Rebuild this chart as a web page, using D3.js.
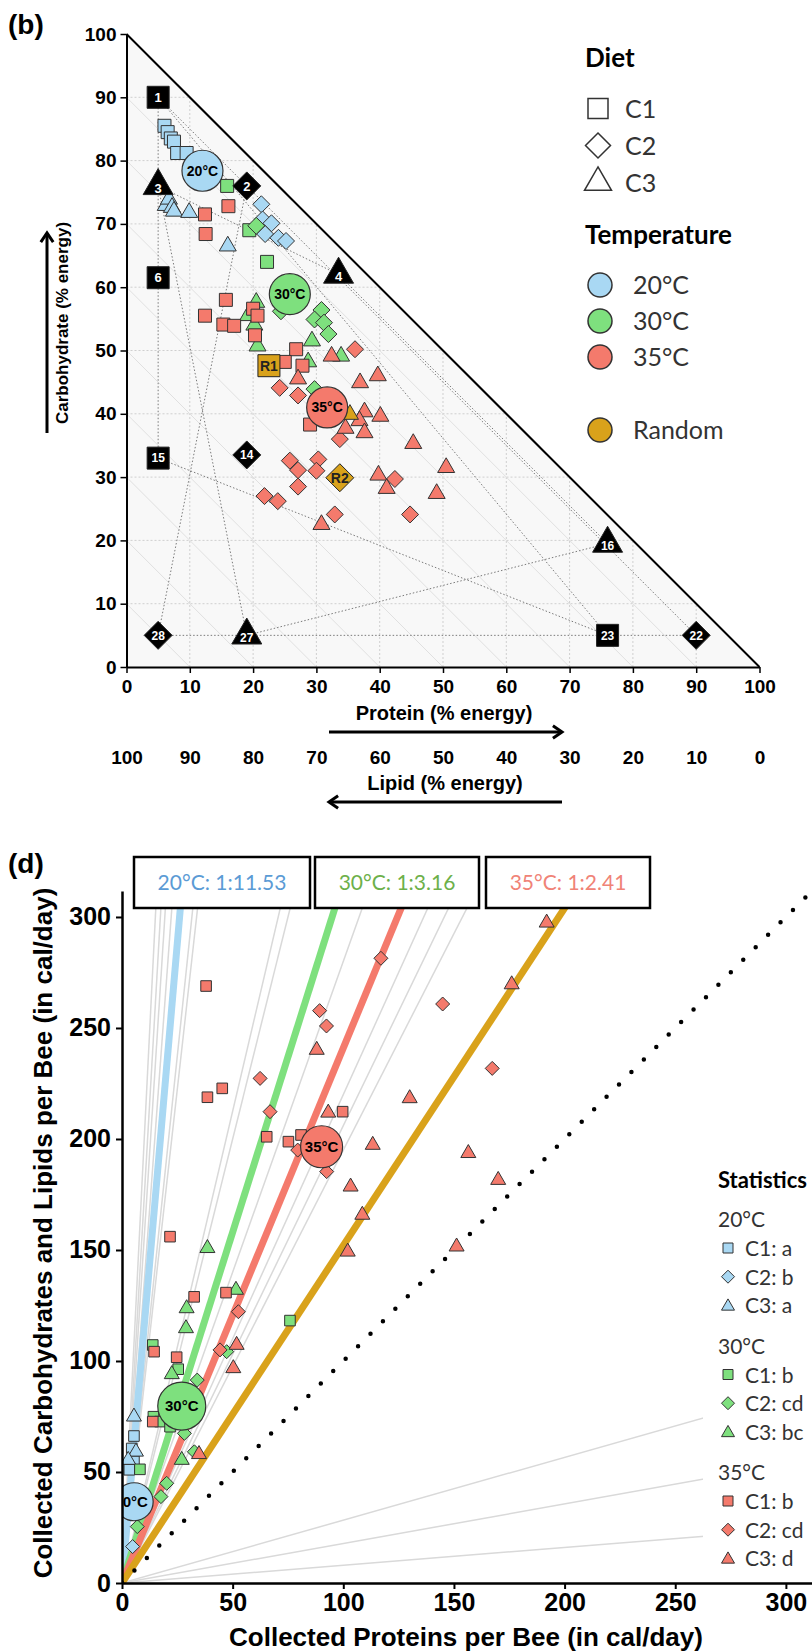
<!DOCTYPE html>
<html>
<head>
<meta charset="utf-8">
<script src="https://cdn.jsdelivr.net/npm/d3@7"></script>
<style>
  body { margin: 0; background: #fff; }
  .axis text { font-family: "Liberation Sans", Arial, sans-serif; font-weight: bold; fill: #000; }
  .axis path, .axis line { stroke: #000; }
</style>
</head>
<body>
<div id="chart"></div>
<script>
// ---------- panel (b): nutrient space, values are [P, C] in % energy ----------
const dietFoods = [
  ["1", "square", 5, 90], ["6", "square", 5, 61.5], ["15", "square", 5, 33], ["23", "square", 76, 5],
  ["2", "diamond", 19, 76], ["14", "diamond", 19, 33.5], ["28", "diamond", 5, 5], ["22", "diamond", 90, 5],
  ["3", "triangle", 5, 76], ["4", "triangle", 33.5, 62], ["16", "triangle", 76, 19.5], ["27", "triangle", 19, 5]
];
const randomFoods = [["R1", "square", 22.5, 47.6], ["R2", "diamond", 33.7, 29.9]];
const dietRails = [["1", "6"], ["6", "15"], ["15", "23"], ["1", "23"], ["1", "2"],
                   ["2", "28"], ["28", "22"], ["2", "22"],
                   ["3", "4"], ["4", "16"], ["16", "27"], ["27", "3"]];
const ternTicks = [0, 10, 20, 30, 40, 50, 60, 70, 80, 90, 100];

const tern20 = [
  ["square", 6, 85.5], ["square", 6.5, 84.5], ["square", 7, 83.5], ["square", 7.5, 83], ["square", 8, 81.2], ["square", 9.5, 81.2],
  ["diamond", 21.3, 73.1], ["diamond", 21.5, 70.7], ["diamond", 22.9, 70.1], ["diamond", 21.9, 68.4], ["diamond", 24.0, 67.8], ["diamond", 25.2, 67.3],
  ["triangle", 6.2, 72.9], ["triangle", 6.7, 73.9], ["triangle", 7.2, 72.6], ["triangle", 7.5, 72.0], ["triangle", 9.9, 71.8], ["triangle", 16.0, 66.5]
];
const tern30 = [
  ["square", 15.9, 76.0], ["square", 19.4, 69.0], ["square", 22.2, 64.0],
  ["diamond", 20.5, 69.7], ["diamond", 24.4, 56.2], ["diamond", 30.8, 56.4], ["diamond", 29.7, 54.9], ["diamond", 31.2, 54.4], ["diamond", 31.9, 52.6], ["diamond", 29.7, 43.9],
  ["triangle", 20.5, 57.6], ["triangle", 19.2, 55.5], ["triangle", 20.2, 54.0], ["triangle", 20.7, 50.7], ["triangle", 29.3, 51.5], ["triangle", 33.9, 49.1], ["triangle", 28.7, 48.2]
];
const tern35 = [
  ["square", 12.4, 71.5], ["square", 16.1, 72.8], ["square", 12.5, 68.4], ["square", 15.7, 58.0], ["square", 12.4, 55.5], ["square", 15.3, 54.1],
  ["square", 17.0, 53.9], ["square", 20.0, 56.6], ["square", 20.7, 55.5], ["square", 20.3, 52.4], ["square", 26.8, 50.2], ["square", 25.0, 48.2],
  ["square", 27.8, 47.6], ["square", 29.0, 38.3],
  ["diamond", 36.1, 50.2], ["diamond", 24.2, 44.1], ["diamond", 27.1, 42.9], ["diamond", 33.7, 36.0], ["diamond", 25.8, 32.6], ["diamond", 27.1, 31.1],
  ["diamond", 30.3, 32.8], ["diamond", 30.0, 31.0], ["diamond", 27.1, 28.5], ["diamond", 42.4, 29.7], ["diamond", 21.8, 27.0], ["diamond", 23.9, 26.2],
  ["diamond", 32.9, 24.1], ["diamond", 44.8, 24.1],
  ["triangle", 32.4, 49.1], ["triangle", 27.1, 45.5], ["triangle", 36.9, 44.9], ["triangle", 39.7, 46.0], ["triangle", 37.6, 40.3], ["triangle", 40.1, 39.6],
  ["triangle", 36.8, 38.9], ["triangle", 34.6, 37.7], ["triangle", 37.6, 37.0], ["triangle", 45.3, 35.3], ["triangle", 50.5, 31.5], ["triangle", 39.8, 30.3],
  ["triangle", 41.1, 28.2], ["triangle", 49.0, 27.4], ["triangle", 30.8, 22.5]
];
const ternRandom = [["triangle", 35.3, 39.9]];
const ternCentroids = [["20", "20°C", 12.0, 78.4], ["30", "30°C", 25.8, 58.9], ["35", "35°C", 31.7, 41.0]];

// ---------- panel (d): collected [protein, carbohydrate + lipid] in cal/day ----------
const intake20 = [
  ["square", 5.4, 66.2], ["square", 4.4, 60.6], ["square", 5.4, 54.8], ["square", 3.3, 51.0],
  ["diamond", 4.8, 16.4],
  ["triangle", 5.4, 74.9], ["triangle", 6.3, 59.1], ["triangle", 2.8, 55.4]
];
const intake30 = [
  ["square", 8.1, 51.2], ["square", 13.9, 107.2], ["square", 25.4, 96.3], ["square", 14.2, 74.9], ["square", 17.2, 72.7], ["square", 21.7, 70.4], ["square", 75.9, 118.2],
  ["diamond", 34.0, 91.4], ["diamond", 28.2, 67.4], ["diamond", 32.7, 59.1], ["diamond", 20.2, 44.9], ["diamond", 17.6, 38.9], ["diamond", 47.3, 104.2], ["diamond", 6.9, 25.4],
  ["triangle", 38.6, 150.8], ["triangle", 51.5, 132.0], ["triangle", 29.2, 123.7], ["triangle", 28.9, 114.7], ["triangle", 22.5, 94.0], ["triangle", 27.0, 55.4]
];
const intake35 = [
  ["square", 38.0, 268.9], ["square", 38.6, 218.8], ["square", 45.3, 222.8], ["square", 65.4, 201.0], ["square", 75.2, 198.8], ["square", 80.9, 201.8],
  ["square", 99.7, 212.3], ["square", 21.7, 156.0], ["square", 32.6, 128.9], ["square", 47.0, 130.8], ["square", 14.5, 104.2], ["square", 24.7, 101.7], ["square", 13.9, 72.7],
  ["diamond", 117.0, 281.4], ["diamond", 89.3, 257.8], ["diamond", 92.4, 250.9], ["diamond", 144.9, 260.8], ["diamond", 62.4, 227.3], ["diamond", 66.9, 212.3],
  ["diamond", 167.3, 231.8], ["diamond", 92.5, 185.3], ["diamond", 79.4, 195.0], ["diamond", 52.6, 122.2], ["diamond", 44.3, 105.0],
  ["triangle", 191.9, 297.4], ["triangle", 176.1, 269.6], ["triangle", 88.0, 240.1], ["triangle", 93.2, 211.8], ["triangle", 130.0, 218.3], ["triangle", 113.3, 197.3],
  ["triangle", 103.3, 178.5], ["triangle", 108.6, 165.8], ["triangle", 102.0, 149.2], ["triangle", 156.5, 193.6], ["triangle", 170.0, 181.5], ["triangle", 151.2, 151.5],
  ["triangle", 51.8, 107.2], ["triangle", 50.3, 96.7], ["triangle", 34.8, 58.0]
];
const intakeCentroids = [["20", "20°C", 5.5, 36.6], ["30", "30°C", 27.0, 79.7], ["35", "35°C", 90.2, 196.5]];
const ratioSlopes = [["20", 11.53], ["30", 3.16], ["35", 2.41], ["R", 1.52]];
const ratioLabels = [["20", "20°C: 1:11.53"], ["30", "30°C: 1:3.16"], ["35", "35°C: 1:2.41"]];
const colonySlopes = [19.9, 17.3, 15.5, 13.5, 9.5, 8.9, 4.25, 4.0, 2.8, 2.2, 2.06, 1.95, 0.283, 0.178, 0.08];
const intakeTicks = [0, 50, 100, 150, 200, 250, 300];

// legends
const dietLegend = [["square", "C1"], ["diamond", "C2"], ["triangle", "C3"]];
const tempLegend = [["20", "20°C"], ["30", "30°C"], ["35", "35°C"]];
const statsLegend = [
  ["20", "20°C", [["square", "C1: a"], ["diamond", "C2: b"], ["triangle", "C3: a"]]],
  ["30", "30°C", [["square", "C1: b"], ["diamond", "C2: cd"], ["triangle", "C3: bc"]]],
  ["35", "35°C", [["square", "C1: b"], ["diamond", "C2: cd"], ["triangle", "C3: d"]]]
];

const fillColor = { "20": "#A9D8F3", "30": "#7EE07E", "35": "#F47A6C", "R": "#D9A21B" };
const textColor = { "20": "#5B9BD5", "30": "#6DB04A", "35": "#F08377" };
const lato = "Lato, 'Open Sans', sans-serif";
const arial = "'Liberation Sans', Arial, sans-serif";

// r = half width of the mark
function shapePath(shape, r) {
  if (shape === "square") return `M${-r},${-r}H${r}V${r}H${-r}Z`;
  if (shape === "diamond") return `M0,${-r}L${r},0L0,${r}L${-r},0Z`;
  const h = r * Math.sqrt(3);
  return `M0,${-h * 2 / 3}L${r},${h / 3}L${-r},${h / 3}Z`;
}

const svg = d3.select("#chart").append("svg")
  .attr("width", 812)
  .attr("height", 1652);

// =================== panel (b) ===================
const tx = d3.scaleLinear().domain([0, 100]).range([126.5, 759.5]);
const ty = d3.scaleLinear().domain([0, 100]).range([667, 34]);
const lx = d3.scaleLinear().domain([100, 0]).range([126.5, 759.5]);
const gB = svg.append("g");

// triangle background
gB.append("path")
  .attr("d", "M" + tx(0) + "," + ty(0) + "L" + tx(0) + "," + ty(100) + "L" + tx(100) + "," + ty(0) + "Z")
  .attr("fill", "#f8f8f8");

// grid inside the triangle
ternTicks.filter(v => v > 0 && v < 100).forEach(v => {
  gB.append("line")
    .attr("x1", tx(0)).attr("x2", tx(100 - v)).attr("y1", ty(v)).attr("y2", ty(v))
    .attr("stroke", "#cfcfcf").attr("stroke-dasharray", "2,2");
  gB.append("line")
    .attr("x1", tx(v)).attr("x2", tx(v)).attr("y1", ty(0)).attr("y2", ty(100 - v))
    .attr("stroke", "#cfcfcf").attr("stroke-dasharray", "2,2");
  // lipid iso-lines
  gB.append("line")
    .attr("x1", tx(0)).attr("y1", ty(v)).attr("x2", tx(v)).attr("y2", ty(0))
    .attr("stroke", "#e0e0e0").attr("stroke-width", 1);
});

// diet rails
const foodById = new Map(dietFoods.map(d => [d[0], d]));
dietRails.forEach(([a, b]) => {
  const A = foodById.get(a), B = foodById.get(b);
  gB.append("line")
    .attr("x1", tx(A[2])).attr("y1", ty(A[3]))
    .attr("x2", tx(B[2])).attr("y2", ty(B[3]))
    .attr("stroke", "#7a7a7a").attr("stroke-width", 1).attr("stroke-dasharray", "1.5,2");
});

const topSize = { square: 6.5, diamond: 8.5, triangle: 8.5 };
function drawTern(data, key) {
  gB.append("g").selectAll("path")
    .data(data)
    .join("path")
    .attr("transform", d => `translate(${tx(d[1])},${ty(d[2])})`)
    .attr("d", d => shapePath(d[0], topSize[d[0]]))
    .attr("fill", fillColor[key])
    .attr("stroke", "#333")
    .attr("stroke-width", 1);
}
drawTern(tern20, "20");
drawTern(tern30, "30");
drawTern(tern35, "35");
drawTern(ternRandom, "R");

// temperature centroids
ternCentroids.forEach(d => {
  gB.append("circle").attr("cx", tx(d[2])).attr("cy", ty(d[3])).attr("r", 20.5)
    .attr("fill", fillColor[d[0]]).attr("stroke", "#333").attr("stroke-width", 1.2);
  gB.append("text").attr("x", tx(d[2])).attr("y", ty(d[3])).attr("dy", "0.35em")
    .attr("text-anchor", "middle").attr("font-family", arial).attr("font-weight", "bold")
    .attr("font-size", 14).text(d[1]);
});

// diet foods (black) and random foods (gold)
const foodSize = { square: 11, diamond: 14, triangle: 15 };
function drawFoods(data, fill, txtFill) {
  const g = gB.append("g").selectAll("g").data(data).join("g")
    .attr("transform", d => `translate(${tx(d[2])},${ty(d[3])})`);
  g.append("path").attr("d", d => shapePath(d[1], foodSize[d[1]]))
    .attr("fill", fill).attr("stroke", "#222").attr("stroke-width", 1);
  g.append("text")
    .attr("y", d => d[1] === "triangle" ? 2 : 0)
    .attr("dy", "0.36em")
    .attr("text-anchor", "middle")
    .attr("font-family", arial).attr("font-weight", "bold")
    .attr("font-size", d => d[0].length > 1 ? (fill === "#000" ? 12 : 14) : 13)
    .attr("fill", txtFill)
    .text(d => d[0]);
}
drawFoods(dietFoods, "#000", "#fff");
drawFoods(randomFoods, fillColor.R, "#222");

// axes
const axL = gB.append("g").attr("class", "axis")
  .attr("transform", `translate(${tx(0)},0)`)
  .call(d3.axisLeft(ty).tickValues(ternTicks).tickSize(6).tickSizeOuter(0).tickPadding(4));
axL.selectAll("text").attr("font-size", 19);
const axB = gB.append("g").attr("class", "axis")
  .attr("transform", `translate(0,${ty(0)})`)
  .call(d3.axisBottom(tx).tickValues(ternTicks).tickSize(6).tickSizeOuter(0).tickPadding(7));
axB.selectAll("text").attr("font-size", 19);
gB.selectAll(".axis .domain").attr("stroke-width", 2);
gB.selectAll(".axis .tick line").attr("stroke-width", 1.5);

const axLip = gB.append("g").attr("class", "axis")
  .attr("transform", "translate(0,750)")
  .call(d3.axisBottom(lx).tickValues(ternTicks).tickSize(0).tickPadding(0));
axLip.select(".domain").remove();
axLip.selectAll("text").attr("font-size", 19);

// hypotenuse
gB.append("line")
  .attr("x1", tx(0)).attr("y1", ty(100)).attr("x2", tx(100)).attr("y2", ty(0))
  .attr("stroke", "#000").attr("stroke-width", 2);

// axis titles and arrows
gB.append("text").attr("x", 444).attr("y", 720).attr("text-anchor", "middle")
  .attr("font-family", arial).attr("font-weight", "bold").attr("font-size", 20)
  .text("Protein (% energy)");
gB.append("text").attr("x", 445).attr("y", 790).attr("text-anchor", "middle")
  .attr("font-family", arial).attr("font-weight", "bold").attr("font-size", 20)
  .text("Lipid (% energy)");
gB.append("text").attr("transform", "translate(68,323) rotate(-90)").attr("text-anchor", "middle")
  .attr("font-family", arial).attr("font-weight", "bold").attr("font-size", 17)
  .text("Carbohydrate (% energy)");

function arrow(x1, y1, x2, y2) {
  const a = Math.atan2(y2 - y1, x2 - x1), L = 11;
  gB.append("line").attr("x1", x1).attr("y1", y1).attr("x2", x2).attr("y2", y2)
    .attr("stroke", "#000").attr("stroke-width", 3);
  gB.append("path")
    .attr("d", `M${x2 - L * Math.cos(a - 0.6)},${y2 - L * Math.sin(a - 0.6)}L${x2},${y2}L${x2 - L * Math.cos(a + 0.6)},${y2 - L * Math.sin(a + 0.6)}`)
    .attr("fill", "none").attr("stroke", "#000").attr("stroke-width", 3);
}
arrow(329, 732, 562, 732);
arrow(562, 802, 329, 802);
arrow(47, 433, 47, 233);

gB.append("text").attr("x", 8).attr("y", 34)
  .attr("font-family", arial).attr("font-weight", "bold").attr("font-size", 28).text("(b)");

// legend (b)
const legB = gB.append("g");
legB.append("text").attr("x", 585).attr("y", 67).attr("font-family", lato)
  .attr("font-weight", "bold").attr("font-size", 26).text("Diet");
dietLegend.forEach((d, i) => {
  const cy = 108.5 + i * 37;
  legB.append("path").attr("transform", `translate(598,${cy})`)
    .attr("d", shapePath(d[0], d[0] === "square" ? 10 : (d[0] === "diamond" ? 12.5 : 13.5)))
    .attr("fill", "#fff").attr("stroke", "#333").attr("stroke-width", 1.5);
  legB.append("text").attr("x", 625).attr("y", cy + 9).attr("font-family", lato)
    .attr("font-size", 25).attr("fill", "#333").text(d[1]);
});
legB.append("text").attr("x", 585).attr("y", 244).attr("font-family", lato)
  .attr("font-weight", "bold").attr("font-size", 26).text("Temperature");
tempLegend.concat([["R", "Random"]]).forEach((d, i) => {
  const cy = d[0] === "R" ? 430 : 285 + i * 36;
  legB.append("circle").attr("cx", 600).attr("cy", cy).attr("r", 12)
    .attr("fill", fillColor[d[0]]).attr("stroke", "#333").attr("stroke-width", 1.5);
  legB.append("text").attr("x", 633).attr("y", cy + 9).attr("font-family", lato)
    .attr("font-size", 25).attr("fill", "#333").text(d[1]);
});

// =================== panel (d) ===================
const bx = d3.scaleLinear().domain([0, 311.8]).range([122, 812]);
const by = d3.scaleLinear().domain([0, 311.7]).range([1583, 891]);
const gD = svg.append("g");

svg.append("defs").append("clipPath").attr("id", "clipD")
  .append("rect").attr("x", 122).attr("y", 891).attr("width", 690).attr("height", 692);
const plotD = gD.append("g").attr("clip-path", "url(#clipD)");

// individual colony ratio lines
plotD.append("g").selectAll("line")
  .data(colonySlopes)
  .join("line")
  .attr("x1", bx(0)).attr("y1", by(0))
  .attr("x2", d => bx(Math.min(320, 320 / d)))
  .attr("y2", d => by(Math.min(320, 320 / d) * d))
  .attr("stroke", "#d9d9d9").attr("stroke-width", 1.5);

// mean ratio lines
plotD.append("g").selectAll("line")
  .data(ratioSlopes)
  .join("line")
  .attr("x1", bx(0)).attr("y1", by(0))
  .attr("x2", d => bx(320 / d[1]))
  .attr("y2", by(320))
  .attr("stroke", d => fillColor[d[0]])
  .attr("stroke-width", 7);

// 1:1 line
plotD.append("line")
  .attr("x1", bx(0)).attr("y1", by(0)).attr("x2", bx(320)).attr("y2", by(320))
  .attr("stroke", "#000").attr("stroke-width", 4.5)
  .attr("stroke-linecap", "round").attr("stroke-dasharray", "0,17.6");

const botSize = { square: 5.3, diamond: 7, triangle: 7.5 };
function drawIntake(data, key) {
  plotD.append("g").selectAll("path")
    .data(data)
    .join("path")
    .attr("transform", d => `translate(${bx(d[1])},${by(d[2])})`)
    .attr("d", d => shapePath(d[0], botSize[d[0]]))
    .attr("fill", fillColor[key])
    .attr("stroke", "#333")
    .attr("stroke-width", 1);
}
drawIntake(intake20, "20");
drawIntake(intake30, "30");
drawIntake(intake35, "35");

const centR = { "20": 19, "30": 24, "35": 21 };
intakeCentroids.forEach(d => {
  plotD.append("circle").attr("cx", bx(d[2])).attr("cy", by(d[3])).attr("r", centR[d[0]])
    .attr("fill", fillColor[d[0]]).attr("stroke", "#333").attr("stroke-width", 1.2);
  plotD.append("text").attr("x", bx(d[2]) + (d[0] === "20" ? -3 : 0)).attr("y", by(d[3])).attr("dy", "0.35em")
    .attr("text-anchor", "middle").attr("font-family", arial).attr("font-weight", "bold")
    .attr("font-size", 15).text(d[1]);
});

// axes
const axDL = gD.append("g").attr("class", "axis")
  .attr("transform", `translate(${bx(0)},0)`)
  .call(d3.axisLeft(by).tickValues(intakeTicks).tickSize(6).tickSizeOuter(0).tickPadding(5));
axDL.selectAll("text").attr("font-size", 25);
const axDB = gD.append("g").attr("class", "axis")
  .attr("transform", `translate(0,${by(0)})`)
  .call(d3.axisBottom(bx).tickValues(intakeTicks).tickSize(6).tickSizeOuter(0).tickPadding(4));
axDB.selectAll("text").attr("font-size", 25);
gD.selectAll(".axis .domain").attr("stroke-width", 2.5);
gD.selectAll(".axis .tick line").attr("stroke-width", 2);

gD.append("text").attr("x", 466).attr("y", 1646).attr("text-anchor", "middle")
  .attr("font-family", arial).attr("font-weight", "bold").attr("font-size", 26)
  .text("Collected Proteins per Bee (in cal/day)");
gD.append("text").attr("transform", "translate(52,1233) rotate(-90)").attr("text-anchor", "middle")
  .attr("font-family", arial).attr("font-weight", "bold").attr("font-size", 26)
  .text("Collected Carbohydrates and Lipids per Bee (in cal/day)");
gD.append("text").attr("x", 8).attr("y", 873)
  .attr("font-family", arial).attr("font-weight", "bold").attr("font-size", 28).text("(d)");

// ratio boxes
const boxX = [[134, 310], [315, 479], [486, 650]];
ratioLabels.forEach((d, i) => {
  gD.append("rect").attr("x", boxX[i][0]).attr("y", 857)
    .attr("width", boxX[i][1] - boxX[i][0]).attr("height", 51)
    .attr("fill", "#fff").attr("stroke", "#000").attr("stroke-width", 2.5);
  gD.append("text").attr("x", (boxX[i][0] + boxX[i][1]) / 2).attr("y", 890)
    .attr("text-anchor", "middle").attr("font-family", lato).attr("font-size", 21)
    .attr("fill", textColor[d[0]]).text(d[1]);
});

// statistics legend
const legD = gD.append("g");
legD.append("rect").attr("x", 703).attr("y", 1160).attr("width", 109).attr("height", 415).attr("fill", "#fff");
legD.append("text").attr("x", 718).attr("y", 1188).attr("font-family", lato)
  .attr("font-weight", "bold").attr("font-size", 22).text("Statistics");
const statSize = { square: 5, diamond: 6.5, triangle: 6.5 };
statsLegend.forEach((grp, gi) => {
  const hy = 1219 + gi * 126.5;
  legD.append("text").attr("x", 718).attr("y", hy + 8).attr("font-family", lato)
    .attr("font-size", 21).attr("fill", "#333").text(grp[1]);
  grp[2].forEach((it, ii) => {
    const cy = hy + 29 + ii * 28.7;
    legD.append("path").attr("transform", `translate(728,${cy + (it[0] === "triangle" ? 1 : 0)})`)
      .attr("d", shapePath(it[0], statSize[it[0]]))
      .attr("fill", fillColor[grp[0]]).attr("stroke", "#333").attr("stroke-width", 1);
    legD.append("text").attr("x", 745).attr("y", cy + 8).attr("font-family", lato)
      .attr("font-size", 21).attr("fill", "#333").text(it[1]);
  });
});
</script>
</body>
</html>
